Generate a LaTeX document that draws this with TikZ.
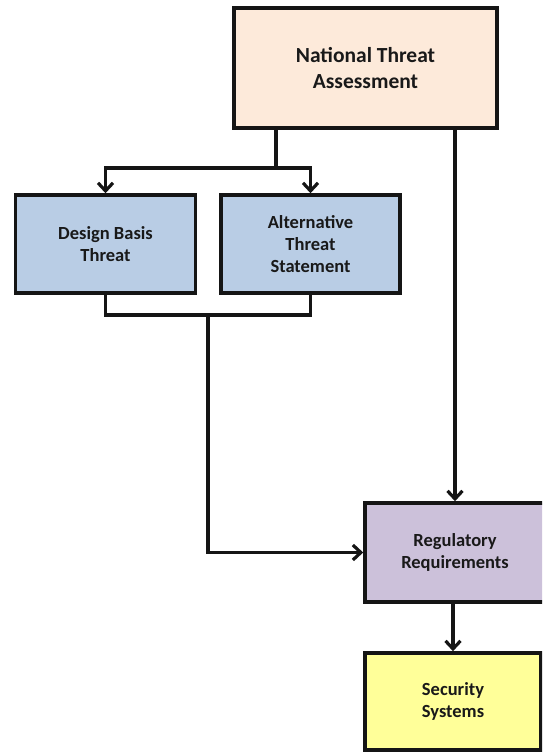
\documentclass[tikz,border=0pt]{standalone}
\usepackage{fontspec}
\setmainfont{Carlito}
\usepackage{tikz}
\usetikzlibrary{arrows.meta, positioning, calc}
\usepackage{xcolor}

\definecolor{ntaFill}{HTML}{FDEADA}
\definecolor{dbtFill}{HTML}{B9CDE5}
\definecolor{regFill}{HTML}{CCC1DA}
\definecolor{secFill}{HTML}{FFFF99}
\definecolor{edgeCol}{HTML}{151515}

\begin{document}
\begin{tikzpicture}[
  x=1pt, y=-1pt,
  box/.style={draw=edgeCol, line width=3.6pt, align=center, inner sep=0pt, font=\bfseries\fontsize{18.5}{22}\selectfont, text=black!90},
  bigbox/.style={box, fill=ntaFill, minimum width=263pt, minimum height=120pt, font=\bfseries\fontsize{21.5}{25.5}\selectfont},
  threat/.style={box, fill=dbtFill, minimum width=180pt, minimum height=98pt},
  arrow/.style={-{Straight Barb[length=8pt, width=15pt]}, line width=3.2pt, draw=edgeCol},
  line/.style={line width=3.2pt, draw=edgeCol}
]

  % cadre de l'image
  \useasboundingbox (0,0) rectangle (542,753);
  \clip (0,0) rectangle (542,753);

  % Boites ==============================
  \node[bigbox] (nta) at (365.5,68) {National Threat\\Assessment};
  \node[threat] (dbt) at (105.5,244) {Design Basis\\Threat};
  \node[threat, minimum width=179pt] (ats) at (310.5,244) {Alternative\\Threat\\Statement};
  \node[box, fill=regFill, minimum width=180pt, minimum height=99pt] (reg) at (455,552.5) {Regulatory\\Requirements};
  \node[box, fill=secFill, minimum width=176pt, minimum height=97pt] (sec) at (453,701.5) {Security\\Systems};

  % points de jonction
  \coordinate (split) at (276,168);
  \coordinate (merge) at (208,315);

  % Flèches ==============================
  \draw[line] (nta.south -| split) -- (split);
  \draw[arrow] (split) -| (dbt);
  \draw[arrow] (split) -| (ats);
  \draw[arrow] (nta.south -| reg.north) -- (reg.north);

  \draw[line] (dbt.south) |- (merge) -| (ats.south);
  \draw[arrow] (merge) |- (reg.west);

  \draw[arrow] (reg.south -| sec.north) -- (sec.north);

\end{tikzpicture}
\end{document}
